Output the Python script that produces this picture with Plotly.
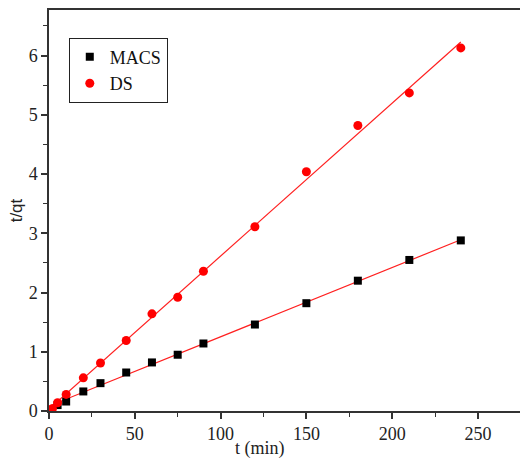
import numpy as np
import plotly.graph_objects as go

# Pseudo-second-order kinetics: t/qt versus contact time t
t_macs = [5, 10, 20, 30, 45, 60, 75, 90, 120, 150, 180, 210, 240]
y_macs = [0.10, 0.16, 0.33, 0.47, 0.65, 0.82, 0.95, 1.14, 1.46, 1.82, 2.20, 2.55, 2.88]

t_ds = [2, 5, 10, 20, 30, 45, 60, 75, 90, 120, 150, 180, 210, 240]
y_ds = [0.04, 0.14, 0.28, 0.56, 0.81, 1.19, 1.64, 1.92, 2.36, 3.11, 4.04, 4.82, 5.37, 6.13]

x_ticks = [0, 50, 100, 150, 200, 250]
y_ticks = [0, 1, 2, 3, 4, 5, 6]

serif = "Liberation Serif, Times New Roman, serif"
sans = "Liberation Sans, Arial, sans-serif"
axis_col = "#333333"

# Linear fits drawn over the measured points
fit_x = np.array([0.0, 240.0])
k_m, b_m = np.polyfit(t_macs, y_macs, 1)
k_d, b_d = np.polyfit(t_ds, y_ds, 1)

fig = go.Figure()
fig.add_trace(go.Scatter(x=fit_x, y=k_m * fit_x + b_m, mode="lines",
                         line=dict(color="#ff2020", width=1.2), showlegend=False,
                         hoverinfo="skip"))
fig.add_trace(go.Scatter(x=fit_x, y=k_d * fit_x + b_d, mode="lines",
                         line=dict(color="#ff2020", width=1.2), showlegend=False,
                         hoverinfo="skip"))
fig.add_trace(go.Scatter(x=t_macs, y=y_macs, mode="markers", name="MACS",
                         marker=dict(symbol="square", size=8, color="black")))
fig.add_trace(go.Scatter(x=t_ds, y=y_ds, mode="markers", name="DS",
                         marker=dict(symbol="circle", size=9, color="#ff0000")))

fig.update_layout(
    width=520, height=460,
    margin=dict(l=49, r=0, t=10, b=49),
    paper_bgcolor="white", plot_bgcolor="white",
    font=dict(family=serif, size=18, color="#222222"),
    showlegend=True,
    legend=dict(x=0.042, y=0.931, xanchor="left", yanchor="top",
                bordercolor="#222222", borderwidth=1, bgcolor="white",
                font=dict(family=serif, size=18, color="#111111"),
                tracegroupgap=0, itemwidth=30),
    # x-axis title placed as an annotation so it sits left of the plot centre
    annotations=[dict(text="t (min)", xref="paper", yref="paper",
                      x=0.448, y=-0.094, xanchor="center", yanchor="middle",
                      showarrow=False, font=dict(family=serif, size=18, color="#222222"))],
)

fig.update_xaxes(
    range=[0, 274.5], tickvals=x_ticks, showgrid=False, zeroline=False,
    showline=True, linecolor=axis_col, linewidth=1.5, mirror=True,
    ticks="outside", ticklen=6, tickwidth=1.5, tickcolor=axis_col,
    minor=dict(ticks="outside", ticklen=4, tickwidth=1.2, tickcolor=axis_col, dtick=25),
)
fig.update_yaxes(
    range=[0, 6.77], tickvals=y_ticks, showgrid=False, zeroline=False,
    showline=True, linecolor=axis_col, linewidth=1.5,
    ticks="outside", ticklen=6, tickwidth=1.5, tickcolor=axis_col,
    minor=dict(ticks="outside", ticklen=4, tickwidth=1.2, tickcolor=axis_col, dtick=0.5),
    title=dict(text="t/qt", font=dict(family=sans, size=17), standoff=2),
)

fig.write_html("out.html")
